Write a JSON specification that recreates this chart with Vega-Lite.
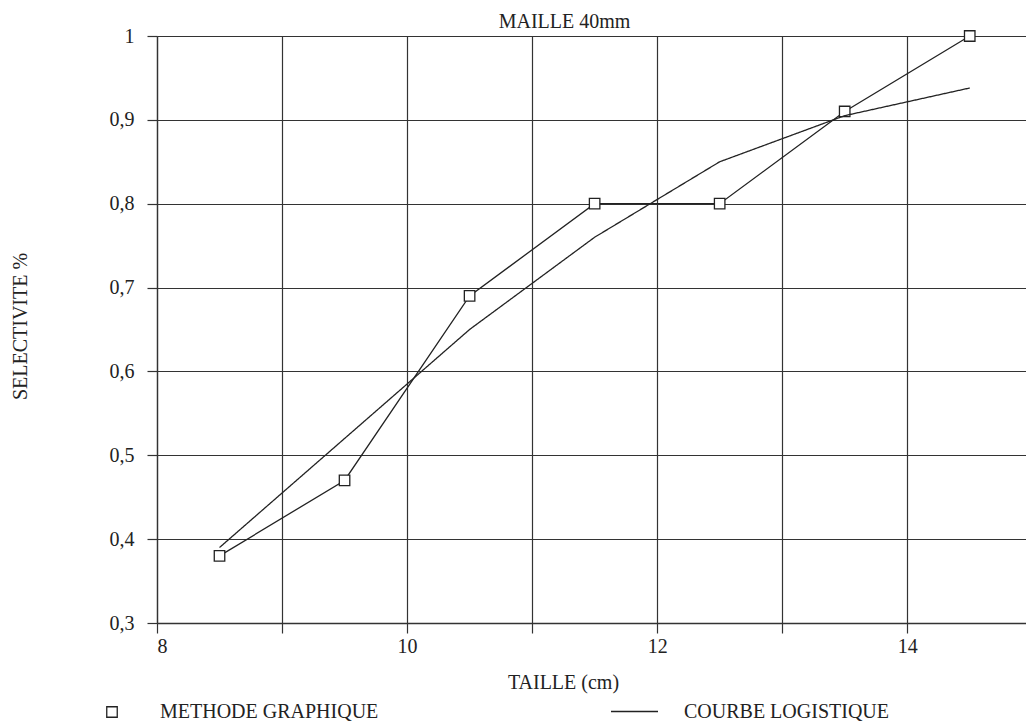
{
  "$schema": "https://vega.github.io/schema/vega-lite/v6.json",
  "autosize": {"type": "none"},
  "width": 869,
  "height": 587,
  "padding": {"left": 157, "top": 36, "right": 0, "bottom": 101},
  "background": "white",
  "title": {
    "text": "MAILLE 40mm",
    "anchor": "middle",
    "frame": "group",
    "dx": -27,
    "dy": 30,
    "baseline": "bottom",
    "offset": 4,
    "font": "Liberation Serif",
    "fontSize": 20,
    "fontWeight": "normal",
    "color": "#222"
  },
  "datasets": {
    "methode": [
      {"taille": 8.5, "selectivite": 0.38},
      {"taille": 9.5, "selectivite": 0.47},
      {"taille": 10.5, "selectivite": 0.69},
      {"taille": 11.5, "selectivite": 0.80},
      {"taille": 12.5, "selectivite": 0.80},
      {"taille": 13.5, "selectivite": 0.91},
      {"taille": 14.5, "selectivite": 1.0}
    ],
    "logistique": [
      {"taille": 8.5, "selectivite": 0.39},
      {"taille": 9.5, "selectivite": 0.52},
      {"taille": 10.5, "selectivite": 0.65},
      {"taille": 11.5, "selectivite": 0.76},
      {"taille": 12.5, "selectivite": 0.85},
      {"taille": 13.5, "selectivite": 0.905},
      {"taille": 14.5, "selectivite": 0.938}
    ]
  },
  "layer": [
    {
      "data": {"name": "methode"},
      "mark": {"type": "line", "color": "#222", "strokeWidth": 1.3},
      "encoding": {
        "x": {
          "field": "taille", "type": "quantitative",
          "scale": {"domain": [8, 14.95], "nice": false, "zero": false},
          "axis": {
            "title": "TAILLE (cm)",
            "values": [8, 9, 10, 11, 12, 13, 14],
            "format": "d",
            "labelExpr": "datum.value % 2 == 0 ? datum.label : ''",
            "titleX": 406,
            "titleY": 65,
            "titleBaseline": "alphabetic",
            "titleAlign": "center"
          }
        },
        "y": {
          "field": "selectivite", "type": "quantitative",
          "scale": {"domain": [0.3, 1], "nice": false, "zero": false},
          "axis": {
            "title": "SELECTIVITE %",
            "values": [0.3, 0.4, 0.5, 0.6, 0.7, 0.8, 0.9, 1],
            "labelExpr": "replace(format(datum.value, '~g'), '.', ',')",
            "labelPadding": 13,
            "titleAngle": 270,
            "titleX": -131,
            "titleY": 290,
            "titleBaseline": "alphabetic",
            "titleAlign": "center"
          }
        }
      }
    },
    {
      "data": {"name": "methode"},
      "mark": {"type": "point", "shape": "square", "filled": true, "stroke": "#222", "strokeWidth": 1.3, "opacity": 1, "size": 110},
      "encoding": {
        "x": {"field": "taille", "type": "quantitative"},
        "y": {"field": "selectivite", "type": "quantitative"},
        "fill": {
          "datum": "METHODE GRAPHIQUE",
          "type": "nominal",
          "scale": {"range": ["white"]},
          "legend": {
            "orient": "none",
            "legendX": -55,
            "legendY": 666,
            "title": null,
            "symbolType": "square",
            "symbolStrokeColor": "#222",
            "symbolStrokeWidth": 1.3,
            "symbolOpacity": 1,
            "symbolSize": 110,
            "labelOffset": 38,
            "labelLimit": 400,
            "labelFont": "Liberation Serif",
            "labelFontSize": 20,
            "labelColor": "#222"
          }
        }
      }
    },
    {
      "data": {"name": "logistique"},
      "mark": {"type": "line", "color": "#222", "strokeWidth": 1.3},
      "encoding": {
        "x": {"field": "taille", "type": "quantitative"},
        "y": {"field": "selectivite", "type": "quantitative"},
        "strokeDash": {
          "datum": "COURBE LOGISTIQUE",
          "type": "nominal",
          "scale": {"range": [[1, 0]]},
          "legend": {
            "orient": "none",
            "legendX": 453,
            "legendY": 651,
            "title": null,
            "symbolType": "stroke",
            "symbolSize": 2209,
            "symbolStrokeColor": "#222",
            "symbolStrokeWidth": 1.3,
            "symbolOpacity": 1,
            "labelOffset": 25,
            "labelLimit": 400,
            "labelFont": "Liberation Serif",
            "labelFontSize": 20,
            "labelColor": "#222"
          }
        }
      }
    }
  ],
  "config": {
    "view": {"stroke": null},
    "axis": {
      "grid": true,
      "gridColor": "#333",
      "gridWidth": 1.2,
      "gridOpacity": 1,
      "domainColor": "#333",
      "domainWidth": 1.3,
      "tickColor": "#333",
      "tickWidth": 1.2,
      "tickSize": 10,
      "labelPadding": 3,
      "labelFont": "Liberation Serif",
      "labelFontSize": 20,
      "labelColor": "#222",
      "titleFont": "Liberation Serif",
      "titleFontSize": 20,
      "titleFontWeight": "normal",
      "titleColor": "#222"
    }
  }
}
